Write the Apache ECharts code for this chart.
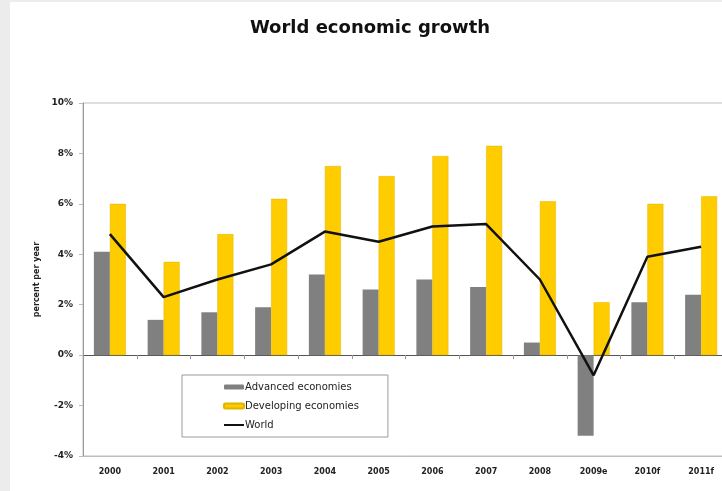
<!DOCTYPE html>
<html>
<head>
<meta charset="utf-8">
<script src="https://cdn.jsdelivr.net/npm/echarts@6/dist/echarts.min.js"></script>
<style>
  html, body { margin: 0; padding: 0; background: #ececec; overflow: hidden; width: 722px; height: 491px; }
  #chart { position: absolute; left: 10px; top: 2px; width: 720px; height: 489px; background: #fff; }
</style>
</head>
<body>
<div id="chart"></div>
<script>
// values, percent per year
const years = ['2000', '2001', '2002', '2003', '2004', '2005', '2006', '2007', '2008', '2009e', '2010f', '2011f'];
const advanced = [4.1, 1.4, 1.7, 1.9, 3.2, 2.6, 3.0, 2.7, 0.5, -3.2, 2.1, 2.4];
const developing = [6.0, 3.7, 4.8, 6.2, 7.5, 7.1, 7.9, 8.3, 6.1, 2.1, 6.0, 6.3];
const world = [4.8, 2.3, 3.0, 3.6, 4.9, 4.5, 5.1, 5.2, 3.0, -0.8, 3.9, 4.3];

const font = 'DejaVu Sans, Verdana, sans-serif';
const chart = echarts.init(document.getElementById('chart'));

chart.setOption({
  animation: false,
  textStyle: { fontFamily: font },
  title: {
    text: 'World economic growth',
    left: 355,
    textAlign: 'center',
    top: 12,
    textStyle: { fontSize: 18, fontWeight: 'bold', color: '#111', fontFamily: font }
  },
  grid: {
    left: 73,
    top: 101,
    right: 2,
    bottom: 35,
    show: true,
    borderColor: '#bdbdbd',
    borderWidth: 1
  },
  legend: {
    orient: 'vertical',
    left: 172,
    top: 373,
    padding: [7, 29, 7, 41],
    itemGap: 9,
    itemWidth: 20,
    itemHeight: 5,
    backgroundColor: '#fff',
    borderColor: '#9a9a9a',
    borderWidth: 1,
    textStyle: { fontSize: 10, color: '#222', padding: [0, 0, 0, -4], fontFamily: font },
    data: [
      'Advanced economies',
      'Developing economies',
      { name: 'World', icon: 'path://M0,0H20V2H0Z', itemStyle: { color: '#111' } }
    ]
  },
  xAxis: [
    {
      type: 'category',
      data: years,
      position: 'bottom',
      axisLine: { onZero: false, lineStyle: { color: '#bdbdbd' } },
      axisTick: { show: false },
      axisLabel: { fontSize: 8, fontWeight: 'bold', color: '#222', margin: 12 }
    },
    {
      type: 'category',
      data: years,
      axisLine: { onZero: true, lineStyle: { color: '#555', width: 1 } },
      axisTick: { show: true, inside: true, length: 4, lineStyle: { color: '#999' } },
      axisLabel: { show: false }
    }
  ],
  yAxis: {
    type: 'value',
    min: -4,
    max: 10,
    interval: 2,
    name: 'percent per year',
    nameLocation: 'middle',
    nameGap: 42,
    nameTextStyle: { fontSize: 8, fontWeight: 'bold', color: '#222' },
    axisLine: { show: true, lineStyle: { color: '#9a9a9a' } },
    axisTick: { show: true, length: 4, lineStyle: { color: '#bbb' } },
    splitLine: { show: false },
    axisLabel: {
      fontSize: 9,
      fontWeight: 'bold',
      color: '#222',
      margin: 10,
      formatter: v => v + '%'
    }
  },
  series: [
    {
      name: 'Advanced economies',
      type: 'bar',
      data: advanced,
      barWidth: 16,
      barGap: '0%',
      itemStyle: { color: '#808080' }
    },
    {
      name: 'Developing economies',
      type: 'bar',
      data: developing,
      barWidth: 16,
      itemStyle: { color: '#FFCC00', borderColor: '#e0b400', borderWidth: 0.5 }
    },
    {
      name: 'World',
      type: 'line',
      data: world,
      symbol: 'none',
      z: 5,
      lineStyle: { color: '#111', width: 2.5 },
      itemStyle: { color: '#111' }
    }
  ]
});
</script>
</body>
</html>
